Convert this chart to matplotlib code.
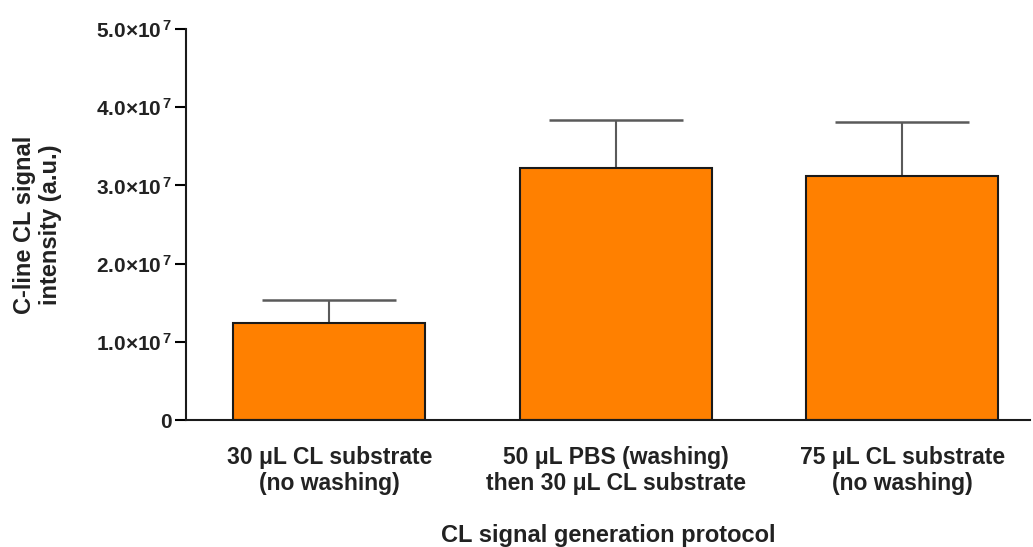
import matplotlib
matplotlib.use("Agg")
import matplotlib.pyplot as plt
from matplotlib.ticker import FixedLocator

categories = ["30 \u03bcL CL substrate\n(no washing)",
              "50 \u03bcL PBS (washing)\nthen 30 \u03bcL CL substrate",
              "75 \u03bcL CL substrate\n(no washing)"]
values = [1.24e7, 3.22e7, 3.12e7]
errors = [0.295e7, 0.62e7, 0.69e7]
yticks = [0, 1e7, 2e7, 3e7, 4e7, 5e7]
ytick_labels = ["0", r"1.0$\times$10$^{\,7}$", r"2.0$\times$10$^{\,7}$",
                r"3.0$\times$10$^{\,7}$", r"4.0$\times$10$^{\,7}$", r"5.0$\times$10$^{\,7}$"]

plt.rcParams['font.family'] = ['Liberation Sans', 'DejaVu Sans']
plt.rcParams['mathtext.fontset'] = 'custom'
plt.rcParams['mathtext.rm'] = 'Liberation Sans:bold'
plt.rcParams['mathtext.it'] = 'Liberation Sans:bold'
plt.rcParams['mathtext.bf'] = 'Liberation Sans:bold'

fig = plt.figure(figsize=(10.33, 5.47), dpi=100)
ax = fig.add_axes([0.180, 0.232, 0.817, 0.715])

x = list(range(len(categories)))
ax.bar(x, values, width=0.67, color="#FF8000", edgecolor="#1a1a1a", linewidth=1.5, zorder=2)
ax.errorbar(x, values, yerr=[[0]*len(errors), errors], fmt="none", ecolor="#5a5a5a",
            elinewidth=1.5, capsize=48, capthick=1.8, zorder=1)

ax.set_xlim(-0.5, 2.445)
ax.set_ylim(0, 5e7)
ax.yaxis.set_major_locator(FixedLocator(yticks))
ax.set_yticklabels(ytick_labels, fontsize=15, fontweight='bold', color="#222222")
ax.set_xticks(x)
ax.set_xticklabels(categories, fontsize=16.5, fontweight='bold', color="#222222", linespacing=1.15)
ax.tick_params(axis='x', length=0, pad=19)
ax.tick_params(axis='y', length=8, width=1.5, direction='out', pad=2)

for s in ['top', 'right']:
    ax.spines[s].set_visible(False)
for s in ['left', 'bottom']:
    ax.spines[s].set_linewidth(1.5)
    ax.spines[s].set_color("#1a1a1a")

ax.set_xlabel("CL signal generation protocol", fontsize=17, fontweight='bold',
              color="#222222", labelpad=21)
ax.set_ylabel("C-line CL signal\nintensity (a.u.)", fontsize=17, fontweight='bold',
              color="#222222", linespacing=1.15)
ax.yaxis.set_label_coords(-0.147, 0.5)

fig.savefig("out.png", dpi=100)
